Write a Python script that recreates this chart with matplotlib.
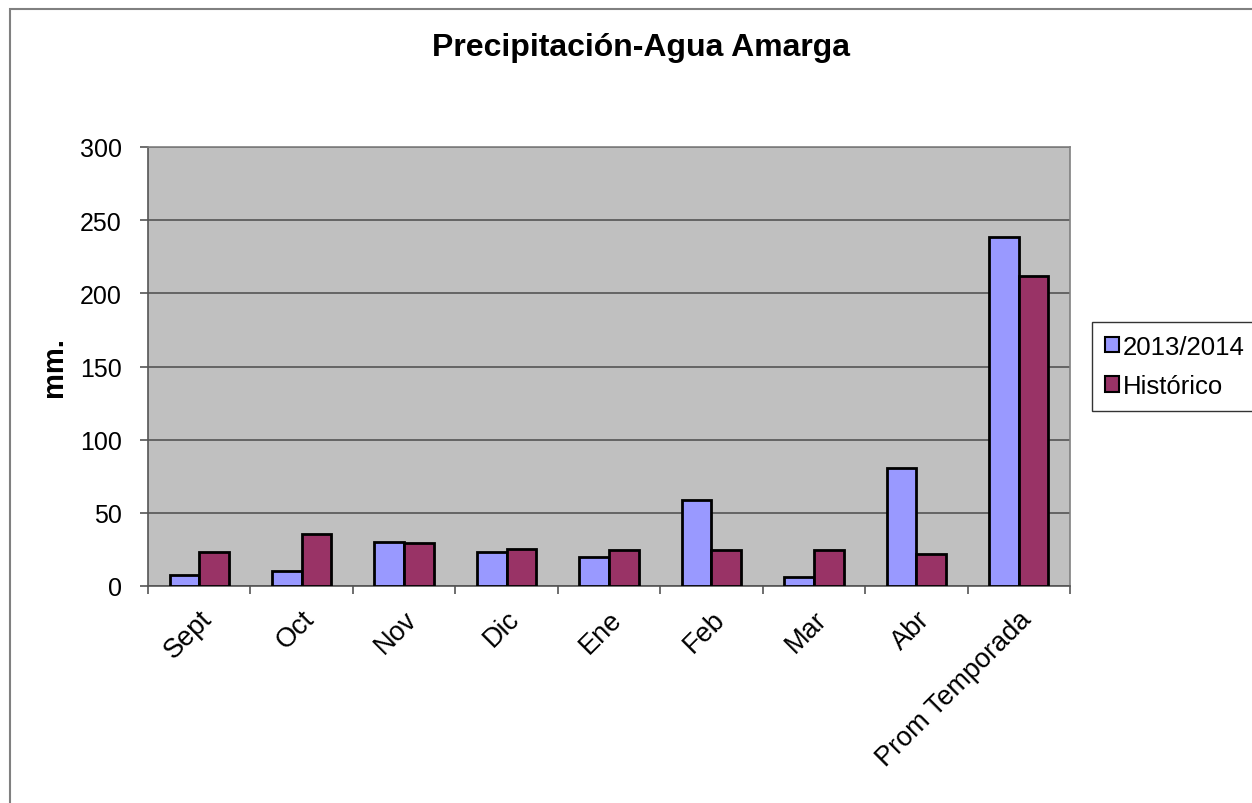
import numpy as np
import matplotlib; matplotlib.use('Agg')
import matplotlib.pyplot as plt
from matplotlib.patches import Rectangle
import matplotlib.transforms as mtransforms

plt.rcParams['font.family'] = ['Liberation Sans', 'DejaVu Sans']

meses = ['Sept', 'Oct', 'Nov', 'Dic', 'Ene', 'Feb', 'Mar', 'Abr', 'Prom Temporada']
temporada = [7.4, 10.5, 29.8, 23.2, 19.7, 58.8, 6.2, 80.8, 238.5]
historico = [23.4, 35.6, 29.1, 25.2, 24.6, 24.6, 24.4, 22.0, 212.0]
yticks = [0, 50, 100, 150, 200, 250, 300]

fig = plt.figure(figsize=(12.52, 8.04), dpi=100)
ax = fig.add_axes([148/1252, 1-587/804, 922/1252, 439/804])

# outer chart frame
fig.patches.append(Rectangle((10/1252, -0.1), 1.2, 1-10/804+0.1, transform=fig.transFigure,
                             fill=False, edgecolor='#808080', lw=1.5))

x = np.arange(len(meses))
w = 0.29
ax.bar(x - w/2, temporada, w, color='#9999ff', edgecolor='black', lw=2, label='2013/2014', zorder=3)
ax.bar(x + w/2, historico, w, color='#993366', edgecolor='black', lw=2, label='Histórico', zorder=3)

ax.set_facecolor('#c0c0c0')
ax.set_xlim(-0.5, len(meses) - 0.5)
ax.set_ylim(0, 300)
ax.set_yticks(yticks)
ax.yaxis.grid(True, color='#555555', lw=1.2, zorder=1)
ax.set_xticks(np.arange(len(meses) + 1) - 0.5)
ax.set_xticklabels([])
ax.set_xticks(x, minor=True)
ax.set_xticklabels(meses, minor=True, rotation=45, ha='right', rotation_mode='anchor', fontsize=19.5)
off = mtransforms.ScaledTranslation(-1/100, 2/100, fig.dpi_scale_trans)
for lab in ax.get_xticklabels(minor=True):
    lab.set_transform(lab.get_transform() + off)
ax.tick_params(axis='x', which='minor', length=0, pad=14)
ax.tick_params(axis='x', which='major', length=6, color='#555555', width=1.2)
ax.tick_params(axis='y', length=6, color='#555555', width=1.2, labelsize=18, pad=13)
for s in ax.spines.values():
    s.set_color('#808080'); s.set_linewidth(1.2)
ax.spines['left'].set_color('#555555')
ax.spines['bottom'].set_color('#555555')

ax.set_ylabel('mm.', fontsize=21, fontweight='bold', labelpad=8)
fig.text(641/1252, 1-48/804, 'Precipitación-Agua Amarga', ha='center', va='center',
         fontsize=23, fontweight='bold')

leg = ax.legend(loc='center left', bbox_to_anchor=((1092-148)/922, 0.5), bbox_transform=ax.transAxes,
                fontsize=18.5, frameon=True, fancybox=False, edgecolor='black',
                handlelength=0.55, handleheight=0.55, handletextpad=0.15, labelspacing=0.6,
                borderpad=0.5, borderaxespad=0)
leg.get_frame().set_linewidth(1.0)
for h in leg.legend_handles:
    h.set_linewidth(1.5)

fig.savefig('out.png', dpi=100)
